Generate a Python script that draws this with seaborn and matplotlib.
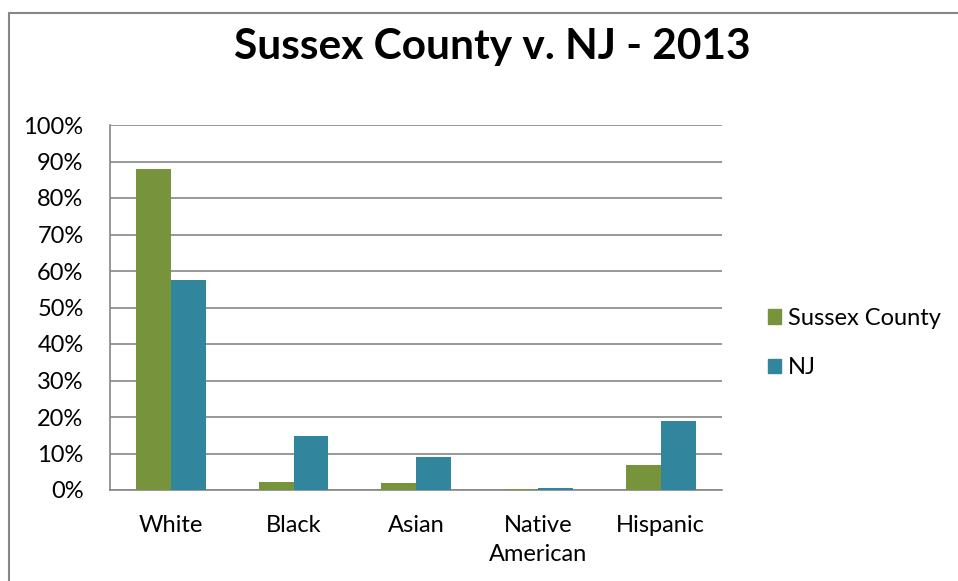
import seaborn as sns
import matplotlib.pyplot as plt
import matplotlib.patches as mpatches
from matplotlib.lines import Line2D
import pandas as pd

categories = ["White", "Black", "Asian", "Native\nAmerican", "Hispanic"]
sussex = [88.0, 2.1, 1.9, 0.2, 6.9]
nj = [57.4, 14.7, 9.1, 0.5, 19.0]
series_names = ["Sussex County", "NJ"]
colors = ["#77933C", "#31859C"]
yticks = list(range(0, 101, 10))

df = pd.DataFrame({
    "category": categories * 2,
    "value": sussex + nj,
    "series": [series_names[0]] * len(categories) + [series_names[1]] * len(categories),
})

sns.set_theme(style="white")
plt.rcParams["font.family"] = ["Lato", "DejaVu Sans"]

W, H = 958, 581
fig = plt.figure(figsize=(W / 100, H / 100), dpi=100)
ax = fig.add_axes([110 / W, 1 - 490 / H, 612 / W, 365 / H])

sns.barplot(data=df, x="category", y="value", hue="series", palette=colors,
            width=0.57, saturation=1, ax=ax, legend=False, zorder=3, linewidth=0)

ax.set_ylim(0, 100)
ax.set_yticks(yticks)
ax.set_yticklabels([f"{t}%" for t in yticks], fontsize=17, color="black")
for lbl in ax.get_xticklabels():
    lbl.set_linespacing(1.45)
ax.tick_params(axis="x", labelsize=17, labelcolor="black", length=0, pad=18)
ax.tick_params(axis="y", length=0, pad=19)
ax.yaxis.grid(True, color="#868686", linewidth=1.2, zorder=0)
ax.set_xlabel("")
ax.set_ylabel("")
for side in ["top", "right"]:
    ax.spines[side].set_visible(False)
for side in ["left", "bottom"]:
    ax.spines[side].set_color("#868686")
    ax.spines[side].set_linewidth(1.2)

fig.text(492 / W, 1 - 47 / H, "Sussex County v. NJ - 2013", ha="center", va="center",
         fontsize=30.5, fontweight="bold", color="black")

handles = [mpatches.Patch(color=c, label=n) for c, n in zip(colors, series_names)]
leg = fig.legend(handles=handles, loc="center left", bbox_to_anchor=(747 / W, 1 - 343 / H),
                 frameon=False, fontsize=17, handlelength=0.55, handleheight=0.55,
                 handletextpad=0.3, labelspacing=1.2)
for t in leg.get_texts():
    t.set_color("black")

# chart frame (only top and left edges are inside the picture)
fig.add_artist(Line2D([8.5 / W, 1], [1 - 12.5 / H, 1 - 12.5 / H], transform=fig.transFigure,
                      color="#868686", linewidth=1.5))
fig.add_artist(Line2D([8.5 / W, 8.5 / W], [0, 1 - 12.5 / H], transform=fig.transFigure,
                      color="#868686", linewidth=1.5))

fig.savefig("out.png", dpi=100)
